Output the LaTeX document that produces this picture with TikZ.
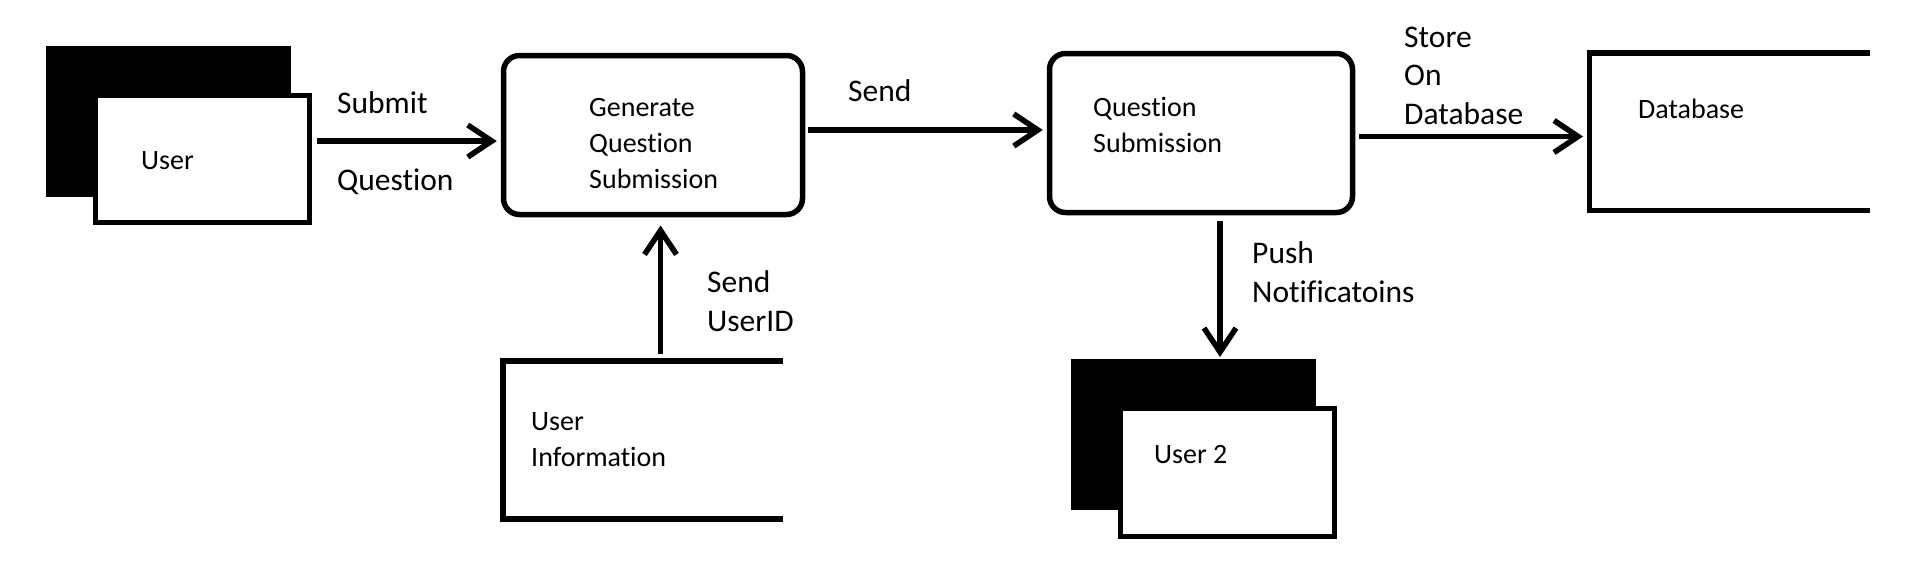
\documentclass[tikz,border=0pt]{standalone}
\usepackage{fontspec}
\setmainfont{Carlito}[Ligatures=NoCommon]
\usetikzlibrary{arrows.meta}
\begin{document}
\begin{tikzpicture}[x=1pt,y=-1pt,
  lw/.style={line width=5.5pt},
  box/.style={draw, lw, rectangle, inner sep=0pt},
  backpanel/.style={fill=black, draw=none, rectangle, inner sep=0pt, outer sep=0pt},
  storebox/.style={rectangle, inner sep=0pt, outer sep=0pt, draw=none},
  proc/.style={box, rounded corners=16pt},
  ntext/.style={anchor=base west, inner sep=0pt, align=left, font=\fontsize{28}{36}\selectfont},
  ltext/.style={anchor=base west, inner sep=0pt, align=left, font=\fontsize{31.5}{38.5}\selectfont},
  arr/.style={lw, -{Straight Barb[length=24pt,width=32pt]}}
]
\useasboundingbox (0,0) rectangle (1909,563);

% User
\node[backpanel, minimum width=245pt, minimum height=151pt] (userback) at (168.5,121.5) {};
\node[box, fill=white, minimum width=214pt, minimum height=127pt] (user) at (202.5,159) {};
\node[ntext] (usert) at (141,169) {User};

% Generate Question Submission
\node[proc, minimum width=299pt, minimum height=159pt] (gen) at (653,135) {};
\node[ntext] (gent) at (589,188) {Generate\\Question\\Submission};

% Question Submission
\node[proc, minimum width=303pt, minimum height=159pt] (qs) at (1201,133) {};
\node[ntext] (qst) at (1093,152) {Question\\Submission};

% Database (open data store)
\node[storebox, minimum width=280.5pt, minimum height=157.5pt] (db) at (1729.75,131.5) {};
\draw[lw] (db.north east) -- (db.north west) -- (db.south west) -- (db.south east);
\node[ntext] (dbt) at (1638,118) {Database};

% User Information (open data store)
\node[storebox, minimum width=280pt, minimum height=158pt] (uinfo) at (643,440.2) {};
\draw[lw] (uinfo.north east) -- (uinfo.north west) -- (uinfo.south west) -- (uinfo.south east);
\node[ntext] (uinfot) at (531,466) {User\\Information};

% User 2
\node[backpanel, minimum width=245pt, minimum height=151pt] (user2back) at (1193.5,434.5) {};
\node[box, fill=white, minimum width=214pt, minimum height=128pt] (user2) at (1227.5,472.5) {};
\node[ntext] (user2t) at (1154,463) {User 2};

% Connectors
\draw[arr] ([xshift=5pt,yshift=18pt]user.east) -- ([xshift=-4pt,yshift=-6pt]gen.west);
\draw[arr] ([xshift=3pt,yshift=5pt]gen.east) -- ([xshift=-4pt,yshift=3pt]qs.west);
\draw[arr] ([xshift=4pt,yshift=-3.5pt]qs.east) -- ([xshift=-6.5pt,yshift=-5pt]db.west);
\draw[arr] ([xshift=17.5pt,yshift=7pt]uinfo.north) -- ([xshift=7.5pt,yshift=-8.25pt]gen.south);
\draw[arr] ([xshift=19pt,yshift=-5.75pt]qs.south) -- ([xshift=26.5pt,yshift=2pt]user2back.north);

% Labels
\node[ltext] (l1) at (337,113) {Submit};
\node[ltext] (l2) at (337,190) {Question};
\node[ltext] (l3) at (848,101) {Send};
\node[ltext] (l4) at (707,331) {Send\\UserID};
\node[ltext] (l5) at (1404,124) {Store\\On\\Database};
\node[ltext] (l6) at (1252,302) {Push\\Notificatoins};
\end{tikzpicture}
\end{document}
